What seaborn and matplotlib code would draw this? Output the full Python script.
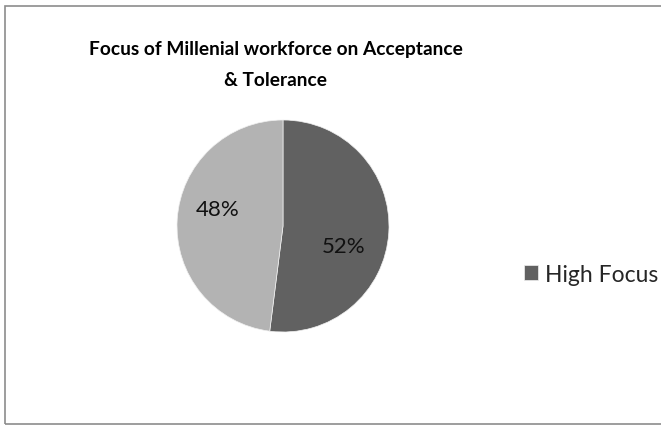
import matplotlib
matplotlib.use("Agg")
import matplotlib.pyplot as plt
from matplotlib.patches import Rectangle
import seaborn as sns

sns.set_theme(style="white")
plt.rcParams["font.family"] = ["Lato", "DejaVu Sans"]

# Survey split
categories = ["High Focus", "Low Focus"]
shares = [52, 48]
pct_labels = ["52%", "48%"]
slice_colors = ["#616161", "#b3b3b3"]
title = "Focus of Millenial workforce on Acceptance\n& Tolerance"

W, H = 661, 427
fig = plt.figure(figsize=(W / 100, H / 100), dpi=100)
fig.patch.set_facecolor("white")

# Chart-area frame (runs past the right edge)
fig.patches.append(Rectangle((5 / W, 2 / H), 1.2, (418 / H), transform=fig.transFigure,
                             fill=False, edgecolor="#8c8c8c", linewidth=1.2))

# Pie axes: centre (283, 227) px, radius 106 px
cx, cy, r = 283, 227, 106
ax = fig.add_axes([(cx - r) / W, (H - cy - r) / H, 2 * r / W, 2 * r / H])
wedges, _ = ax.pie(shares, colors=slice_colors, startangle=90, counterclock=False,
                   radius=1.0, wedgeprops=dict(linewidth=0.5, edgecolor="#f0f0f0"))
ax.set_xlim(-1, 1)
ax.set_ylim(-1, 1)
ax.set_aspect("equal")
ax.axis("off")

label_pos = [(0.575, -0.19), (-0.615, 0.165)]
for txt, (x, y) in zip(pct_labels, label_pos):
    ax.text(x, y, txt, ha="center", va="center", fontsize=16, color="#111111")

fig.text(276 / W, 1 - 65 / H, title, ha="center", va="center", fontsize=13.8,
         fontweight="bold", color="black", linespacing=1.95)

# Legend: only the first entry fits in the frame
leg = fig.legend([wedges[0]], [categories[0]], loc="center left",
                 bbox_to_anchor=(524 / W, 1 - 275 / H), frameon=False,
                 fontsize=16.5, handlelength=0.6, handleheight=0.6, handletextpad=0.3,
                 borderaxespad=0, borderpad=0)

fig.savefig("out.png", dpi=100, facecolor="white")
